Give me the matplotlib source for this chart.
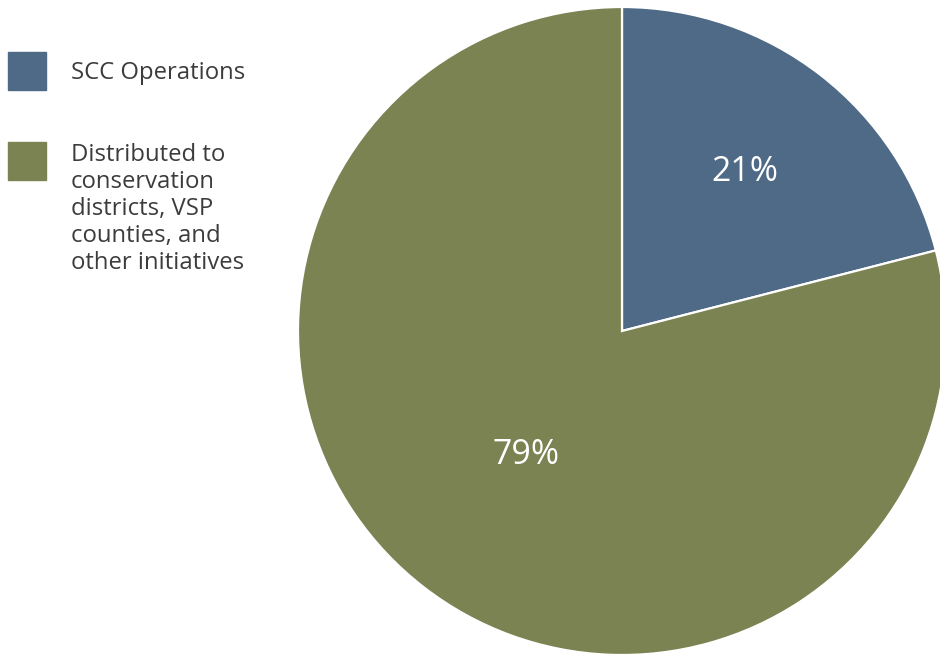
import numpy as np
import matplotlib.pyplot as plt
from matplotlib.patches import Rectangle

# funding split
labels = ['SCC Operations',
          'Distributed to\nconservation\ndistricts, VSP\ncounties, and\nother initiatives']
shares = [21, 79]
colors = ['#4e6a86', '#7b8352']
label_radius = [0.62, 0.485]

plt.rcParams['font.family'] = ['Open Sans', 'DejaVu Sans']

W, H = 940, 654
fig = plt.figure(figsize=(W / 100, H / 100), dpi=100)

# pie centre (622, 331) px, radius 324 px
cx, cy, r = 622, H - 331, 324
ax = fig.add_axes([(cx - r) / W, (cy - r) / H, 2 * r / W, 2 * r / H])
wedges, _ = ax.pie(shares, colors=colors, startangle=90, counterclock=False,
                   radius=1, wedgeprops=dict(edgecolor='white', linewidth=1.6))
ax.set_xlim(-1, 1)
ax.set_ylim(-1, 1)
ax.set_aspect('equal')
ax.axis('off')

for w, val, rr in zip(wedges, shares, label_radius):
    mid = np.deg2rad((w.theta1 + w.theta2) / 2)
    ax.text(rr * np.cos(mid), rr * np.sin(mid), f'{val}%', color='white',
            fontsize=24.5, ha='center', va='center')

# legend
box_y = [52, 142]
for c, lab, y in zip(colors, labels, box_y):
    fig.patches.append(Rectangle((8 / W, 1 - (y + 38) / H), 38 / W, 38 / H,
                                 transform=fig.transFigure, color=c))
    n = lab.count('\n')
    ty = y + 21 if n == 0 else y + 1
    fig.text(71 / W, 1 - ty / H, lab, color='#3c3c3c', fontsize=17.2,
             ha='left', va='center' if n == 0 else 'top', linespacing=1.17)

fig.savefig('out.png', dpi=100)
